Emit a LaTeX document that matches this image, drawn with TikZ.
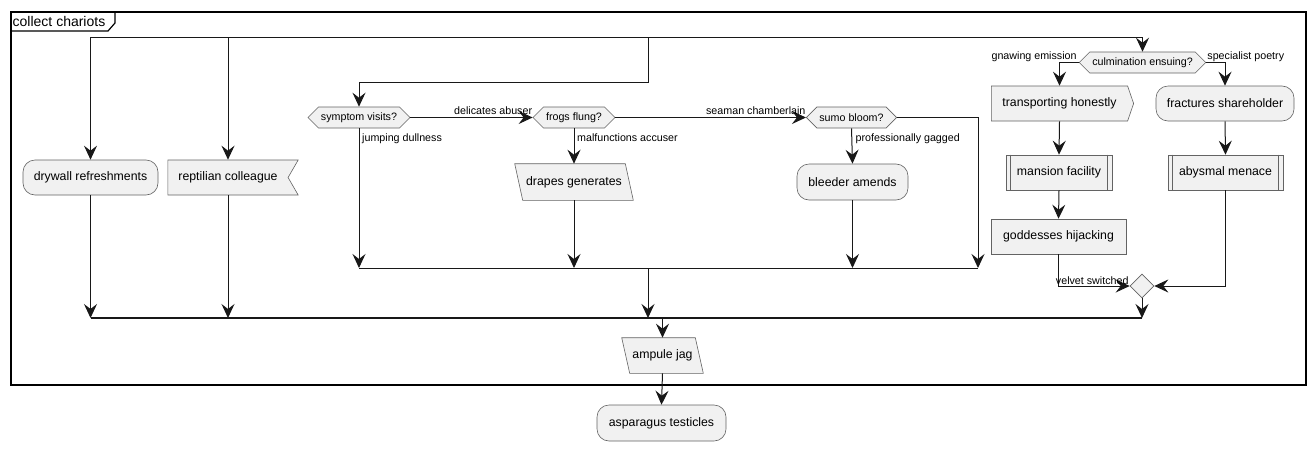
\documentclass[tikz,border=0pt]{standalone}
\usepackage{fontspec}
\setmainfont{Liberation Sans}
\usetikzlibrary{arrows.meta,shapes.symbols,shapes.geometric,backgrounds}

\definecolor{actfill}{HTML}{F1F1F1}
\definecolor{actline}{HTML}{636363}
\definecolor{linecol}{HTML}{181818}

\tikzset{
  act/.style={draw=actline, fill=actfill, line width=0.6pt, inner sep=0pt,
    minimum height=35, font=\fontsize{12.3}{14}\selectfont},
  roundact/.style={act, rounded corners=12},
  plainact/.style={act},
  subact/.style={act},
  inputact/.style={act, draw=none, fill=none},
  sendact/.style={act, signal, signal to=east, signal pointer angle=142, inner xsep=11},
  recvact/.style={act, signal, signal to=nowhere, signal from=east, signal pointer angle=120, inner xsep=10.5},
  choice/.style={act, signal, signal to=west and east, minimum height=21, inner xsep=2.5,
    font=\fontsize{10.7}{12}\selectfont},
  mergebox/.style={draw=actline, fill=actfill, line width=0.6pt, diamond, inner sep=0pt,
    minimum size=24},
  lbl/.style={inner sep=0pt, font=\fontsize{10.7}{12}\selectfont},
  flow/.style={draw=linecol, line width=1pt,
    -{Stealth[length=14pt,width=13pt,inset=5pt,fill=linecol]}},
  bar/.style={draw=linecol, line width=1pt},
  thickbar/.style={draw=linecol, line width=1.6pt}
}

\begin{document}
\begin{tikzpicture}[x=1pt,y=1pt,yscale=-1]
  \path[use as bounding box] (0,0) rectangle (1316,450);

  % frame with its title tab
  \draw[line width=1.4pt] (11,12) rectangle (1306,385);
  \draw[line width=1.2pt] (11,31) -- (108,31) -- (115,23) -- (115,12);
  \node[anchor=west, inner sep=0pt, font=\fontsize{14}{16}\selectfont] (title) at (12.5,21.5) {collect chariots};

  % split points and bars
  \coordinate (split) at (648,37);
  \coordinate (inner) at (648,82);
  \coordinate (joinA) at (648,268);
  \coordinate (joinR) at (978,268);
  \coordinate (mergeB) at (648,318);

  % left branches
  \node[roundact, minimum width=135] (dry) at (90.5,177.5) {drywall refreshments};
  \node[recvact] (rep) at (228,177.5) {reptilian colleague};

  % middle branch
  \node[choice] (sym) at (359,117.5) {symptom visits?};
  \node[choice] (frog) at (574,117.5) {frogs flung?};
  \node[choice] (sumo) at (851.5,117.5) {sumo bloom?};
  \node[inputact, minimum width=110, minimum height=36] (drape) at (574,182) {drapes generates};
  \node[roundact, minimum width=111, minimum height=36] (bleed) at (852.5,182) {bleeder amends};

  % right branch
  \node[choice] (cul) at (1142.5,62.5) {culmination ensuing?};
  \node[sendact] (trans) at (1059.5,103.5) {transporting honestly};
  \node[roundact, minimum width=138] (frac) at (1225,103.5) {fractures shareholder};
  \node[subact, minimum width=106] (mans) at (1059,172.5) {mansion facility};
  \node[subact, minimum width=115] (abys) at (1225.5,172.5) {abysmal menace};
  \node[plainact, minimum width=135] (godd) at (1058.5,236.5) {goddesses hijacking};
  \node[mergebox] (merge) at (1142,286) {};

  \foreach \n in {mans,abys}{
    \draw[draw=actline, line width=0.6pt] ([xshift=5]\n.north west) -- ([xshift=5]\n.south west);
    \draw[draw=actline, line width=0.6pt] ([xshift=-5]\n.north east) -- ([xshift=-5]\n.south east);
  }

  % after the frame
  \node[inputact, minimum width=73] (amp) at (662.5,355.5) {ampule jag};
  \node[roundact, minimum width=129, minimum height=36] (asp) at (661.5,423) {asparagus testicles};

  % parallelograms behind the input texts
  \begin{scope}[on background layer]
    \foreach \n in {drape,amp}
      \filldraw[draw=actline, fill=actfill, line width=0.6pt]
        ([xshift=-4]\n.north west) -- ([xshift=-4]\n.north east)
        -- ([xshift=4]\n.south east) -- ([xshift=4]\n.south west) -- cycle;
  \end{scope}

  % split
  \draw[bar] (dry.north |- split) -- (cul.north |- split);
  \draw[flow] (split) -| (dry.north);
  \draw[flow] (split) -| (rep.north);
  \draw[flow] (split) -- (inner) -| (sym.north);
  \draw[flow] (split) -| (cul.north);

  % middle chain
  \draw[flow] (sym.east) -- (frog.west)
    node[lbl, pos=1, anchor=south east, yshift=2] {delicates abuser};
  \draw[flow] (frog.east) -- (sumo.west)
    node[lbl, pos=1, anchor=south east, yshift=2] {seaman chamberlain};
  \draw[flow] (sym.south) -- (sym.south |- joinA);
  \node[lbl, anchor=north west] at ([xshift=3,yshift=5]sym.south) {jumping dullness};
  \draw[flow] (frog.south) -- (drape.north);
  \node[lbl, anchor=north west] at ([xshift=3,yshift=5]frog.south) {malfunctions accuser};
  \draw[flow] (sumo.south) -- (bleed.north);
  \node[lbl, anchor=north west] at ([xshift=4,yshift=5]sumo.south) {professionally gagged};
  \draw[flow] (drape.south) -- (drape.south |- joinA);
  \draw[flow] (bleed.south) -- (bleed.south |- joinA);
  \draw[flow] (sumo.east) -| (joinR);
  \draw[bar] (sym.south |- joinA) -- (joinR);
  \draw[flow] (joinA) -- (mergeB);

  % right chain
  \draw[flow] (cul.west) -| (trans.north);
  \node[lbl, anchor=south east] at ([xshift=-2,yshift=-1]cul.west) {gnawing emission};
  \draw[flow] (cul.east) -| (frac.north);
  \node[lbl, anchor=south west] at ([xshift=1,yshift=-1]cul.east) {specialist poetry};
  \draw[flow] (trans.south) -- (mans.north);
  \draw[flow] (mans.south) -- (godd.north);
  \draw[flow] (frac.south) -- (abys.north);
  \draw[flow] (godd.south) |- (merge.west);
  \node[lbl, anchor=south east] at ([xshift=-1,yshift=-1]merge.west) {velvet switched};
  \draw[flow] (abys.south) |- (merge.east);
  \draw[flow] (merge.south) -- (merge.south |- mergeB);

  % left branches down to the bar
  \draw[flow] (dry.south) -- (dry.south |- mergeB);
  \draw[flow] (rep.south) -- (rep.south |- mergeB);
  \draw[thickbar] (dry.south |- mergeB) -- (merge.south |- mergeB);

  % out of the bar
  \draw[flow] (amp.north |- mergeB) -- (amp.north);
  \draw[flow] (amp.south) -- (asp.north);
\end{tikzpicture}
\end{document}
